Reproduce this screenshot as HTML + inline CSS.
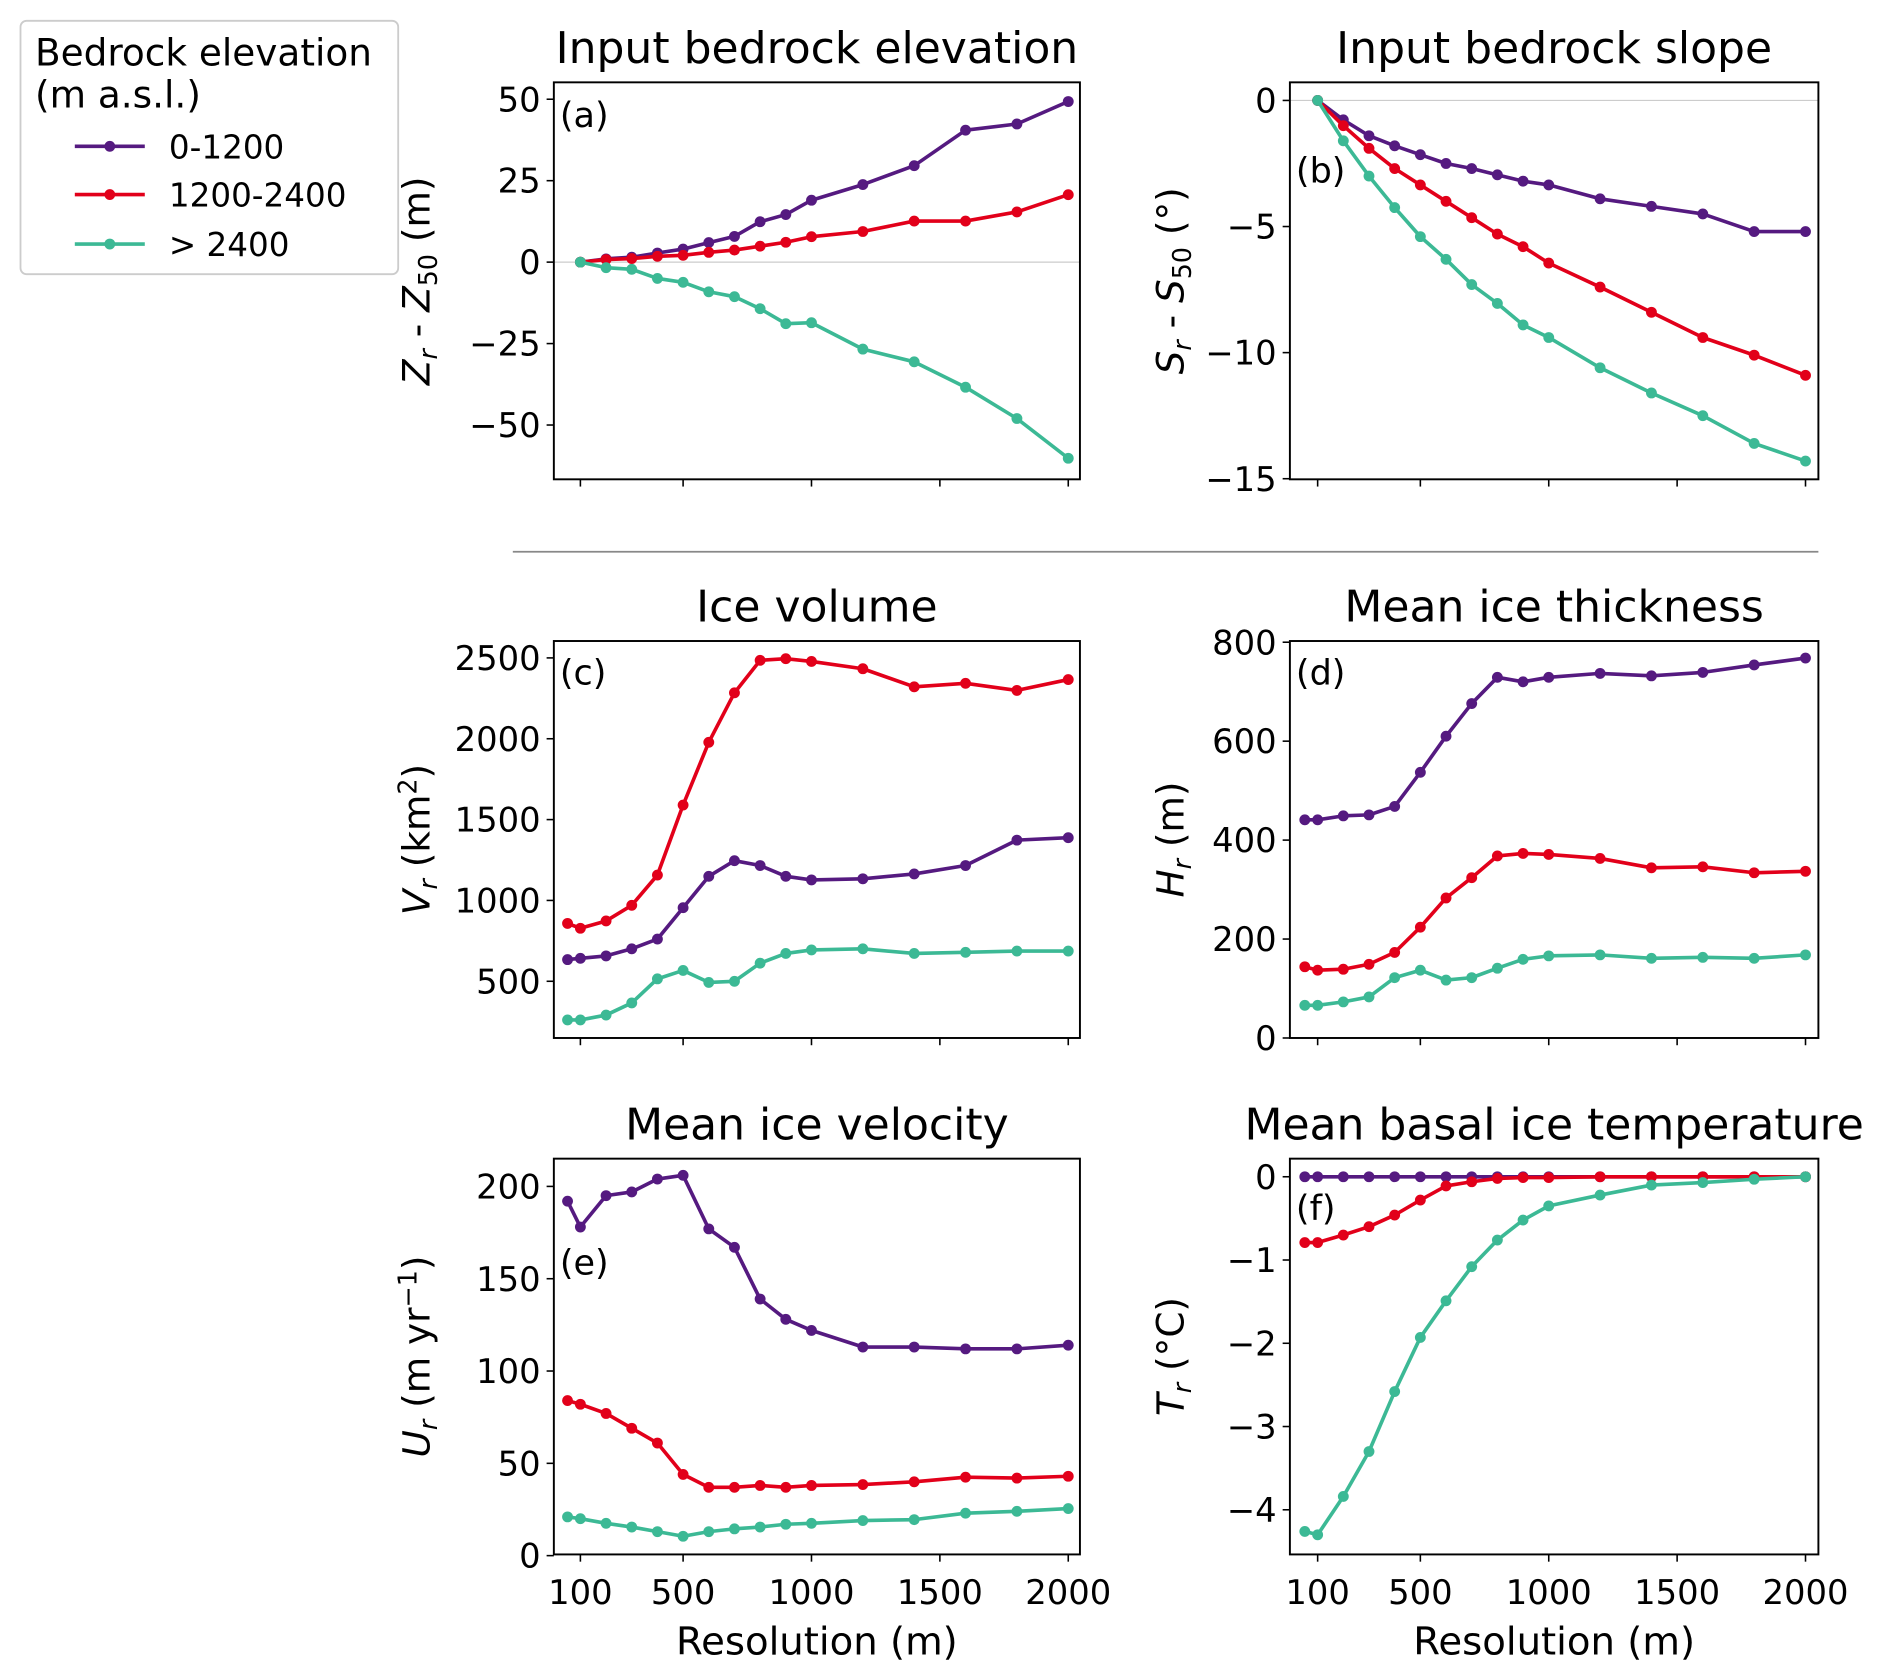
<!DOCTYPE html>
<html><head><meta charset="utf-8"><style>
html,body{margin:0;padding:0;background:#fff}
svg{display:block}
text{font-family:"DejaVu Sans","Liberation Sans",sans-serif;fill:#000}
</style></head><body>
<svg id="fig" xmlns="http://www.w3.org/2000/svg" width="1892" height="1679" viewBox="0 0 1568 1391">
<g id="legend">
<rect x="17" y="17" width="313" height="210" rx="5" fill="#fff" stroke="#ccc" stroke-width="1.5"/>
<text x="29" y="54" font-size="31">Bedrock elevation</text>
<text x="29" y="89" font-size="31">(m a.s.l.)</text>
<g><line x1="62" y1="121" x2="120" y2="121" stroke="#551a80" stroke-width="3"/><circle cx="91" cy="121" r="4.5" fill="#551a80"/><text x="140" y="131" font-size="27">0-1200</text></g>
<g><line x1="62" y1="161" x2="120" y2="161" stroke="#e2001a" stroke-width="3"/><circle cx="91" cy="161" r="4.5" fill="#e2001a"/><text x="140" y="171" font-size="27">1200-2400</text></g>
<g><line x1="62" y1="202" x2="120" y2="202" stroke="#3cb995" stroke-width="3"/><circle cx="91" cy="202" r="4.5" fill="#3cb995"/><text x="140" y="212" font-size="27">&gt; 2400</text></g>
</g>
<line x1="425" y1="457" x2="1507" y2="457" stroke="#888" stroke-width="1.5"/>
</svg>
<script>
const resFull = [50,100,200,300,400,500,600,700,800,900,1000,1200,1400,1600,1800,2000];
const resA = [100,200,300,400,500,600,700,800,900,1000,1200,1400,1600,1800,2000];
const xTicks = [100,500,1000,1500,2000];
const aPurple = [0,1,1.5,2.8,4.0,6,7.9,12.4,14.6,19,23.8,29.6,40.5,42.4,49.3];
const aRed = [0,0.8,1.1,1.8,2.1,3,3.7,4.9,6.1,7.8,9.4,12.6,12.6,15.4,20.7];
const aGreen = [0,-1.7,-2.2,-5,-6.2,-9.1,-10.6,-14.3,-18.9,-18.6,-26.7,-30.6,-38.4,-48,-60.2];
const bPurple = [0,-0.77,-1.4,-1.8,-2.15,-2.5,-2.7,-2.95,-3.2,-3.35,-3.9,-4.2,-4.5,-5.2,-5.2];
const bRed = [0,-1.0,-1.9,-2.7,-3.35,-4.0,-4.65,-5.3,-5.8,-6.45,-7.4,-8.4,-9.4,-10.1,-10.9];
const bGreen = [0,-1.6,-3.0,-4.25,-5.4,-6.3,-7.3,-8.05,-8.9,-9.4,-10.6,-11.6,-12.5,-13.6,-14.3];
const cPurple = [634,642,657,701,761,955,1149,1246,1216,1149,1127,1134,1164,1216,1373,1388];
const cRed = [858,828,873,970,1157,1590,1978,2284,2485,2495,2478,2433,2321,2343,2299,2366];
const cGreen = [261,261,291,366,515,567,493,500,612,672,694,701,672,679,687,687];
const dPurple = [441,441,449,451,468,537,610,676,729,720,729,737,732,739,754,768];
const dRed = [144,137,139,149,173,224,283,324,368,373,371,363,344,346,334,337];
const dGreen = [66,66,73,83,122,137,117,122,141,159,166,168,161,163,161,168];
const ePurple = [192,178,195,197,204,206,177,167,139,128,122,113,113,112,112,114];
const eRed = [84,82,77,69,61,44,37,37,38,37,38,38.5,40,42.5,42,43];
const eGreen = [21,20,17.5,15.5,13,10.5,13,14.5,15.5,17,17.5,19,19.5,23,24,25.5];
const fPurple = [0,0,0,0,0,0,0,0,0,0,0,0,0,0,0,0];
const fRed = [-0.79,-0.79,-0.70,-0.60,-0.46,-0.28,-0.11,-0.06,-0.02,-0.01,-0.01,0,0,0,0,0];
const fGreen = [-4.26,-4.3,-3.84,-3.30,-2.58,-1.93,-1.49,-1.08,-0.76,-0.52,-0.35,-0.22,-0.10,-0.07,-0.03,0];
const aTicks = [50,25,0,-25,-50];
const bTicks = [0,-5,-10,-15];
const cTicks = [500,1000,1500,2000,2500];
const dTicks = [0,200,400,600,800];
const eTicks = [0,50,100,150,200];
const fTicks = [0,-1,-2,-3,-4];

const NS='http://www.w3.org/2000/svg';
const svg=document.getElementById('fig');
const COL={purple:'#551a80',red:'#e2001a',green:'#3cb995'};
function mk(tag,attrs,parent){const e=document.createElementNS(NS,tag);for(const k in attrs)e.setAttribute(k,attrs[k]);(parent||svg).appendChild(e);return e;}
function fmt(v){return v<0?'\u2212'+Math.abs(v):String(v);}

function panel(p){
  const g=mk('g',{});
  
  
  const X=v=>p.x100+(v-100)*0.2128;
  const Y=v=>p.y0-(v-p.v0)*p.k;
  const t=mk('text',{x:(p.L+p.R)/2,y:p.T-16,'font-size':36.5,'text-anchor':'middle'},g);
  t.textContent=p.title;
  
  
  if(p.grid0){const gl=mk('line',{x1:p.L,x2:p.R,y1:Y(0),y2:Y(0),stroke:'#ccc','stroke-width':1},g);
    
    }
  p.yt.forEach(v=>{
    const y=Y(v);
    mk('line',{x1:p.L-6,x2:p.L,y1:y,y2:y,stroke:'#000','stroke-width':1.3},g);
    const tx=mk('text',{x:p.L-11,y:y+10,'font-size':28,'text-anchor':'end'},g);
    tx.textContent=fmt(v);
    
    
  });
  xTicks.forEach(v=>{
    const x=X(v);
    mk('line',{x1:x,x2:x,y1:p.B,y2:p.B+6,stroke:'#000','stroke-width':1.3},g);
    if(p.xlab){const tx=mk('text',{x:x,y:p.B+41,'font-size':28,'text-anchor':'middle'},g);
      tx.textContent=v;
      
      }
  });
  if(p.xlab){const xl=mk('text',{x:(p.L+p.R)/2,y:p.B+83,'font-size':32,'text-anchor':'middle'},g);
    xl.textContent='Resolution (m)';
    
    }
  const yl=mk('text',{x:0,y:0,'font-size':31,'text-anchor':'middle',transform:`translate(${p.ylx},${(p.T+p.B)/2}) rotate(-90)`},g);
  yl.innerHTML=p.ylab;
  
  
  [['purple',p.s[0]],['red',p.s[1]],['green',p.s[2]]].forEach(([c,vals])=>{
    const sg=mk('g',{},g);
    
    
    const pts=vals.map((v,i)=>[X(p.xs[i]),Y(v)]);
    mk('polyline',{points:pts.map(q=>q.join(',')).join(' '),fill:'none',stroke:COL[c],'stroke-width':3,'stroke-linejoin':'round'},sg);
    pts.forEach(q=>{const m=mk('circle',{cx:q[0],cy:q[1],r:4.5,fill:COL[c]},sg);
      
      });
  });
  const fr=mk('rect',{x:p.L,y:p.T,width:p.R-p.L,height:p.B-p.T,fill:'none',stroke:'#000','stroke-width':1.6},g);
  
  
  const pl=mk('text',{x:p.L+5,y:p.ply,'font-size':29},g);
  pl.textContent='('+p.id+')';
  
  
}
const C1={L:459,R:895,x100:481,ylx:356},C2={L:1069,R:1507,x100:1092,ylx:981};
panel(Object.assign({},C1,{id:'a',T:68,B:397,title:'Input bedrock elevation',y0:217,v0:0,k:2.7,yt:aTicks,xs:resA,s:[aPurple,aRed,aGreen],grid0:true,ply:105,
  ylab:'<tspan font-style="italic">Z</tspan><tspan font-style="italic" font-size="21" dy="6">r</tspan><tspan dy="-6"> - </tspan><tspan font-style="italic">Z</tspan><tspan font-size="21" dy="6">50</tspan><tspan dy="-6"> (m)</tspan>'}));
panel(Object.assign({},C2,{id:'b',T:68,B:397,title:'Input bedrock slope',y0:83,v0:0,k:20.9,yt:bTicks,xs:resA,s:[bPurple,bRed,bGreen],grid0:true,ply:151,
  ylab:'<tspan font-style="italic">S</tspan><tspan font-style="italic" font-size="21" dy="6">r</tspan><tspan dy="-6"> - </tspan><tspan font-style="italic">S</tspan><tspan font-size="21" dy="6">50</tspan><tspan dy="-6"> (°)</tspan>'}));
panel(Object.assign({},C1,{id:'c',T:531,B:860,title:'Ice volume',y0:813,v0:500,k:0.134,yt:cTicks,xs:resFull,s:[cPurple,cRed,cGreen],ply:567,
  ylab:'<tspan font-style="italic">V</tspan><tspan font-style="italic" font-size="21" dy="6">r</tspan><tspan dy="-6"> (km</tspan><tspan font-size="21" dy="-11">2</tspan><tspan dy="11">)</tspan>'}));
panel(Object.assign({},C2,{id:'d',T:531,B:860,title:'Mean ice thickness',y0:860,v0:0,k:0.41,yt:dTicks,xs:resFull,s:[dPurple,dRed,dGreen],ply:567,
  ylab:'<tspan font-style="italic">H</tspan><tspan font-style="italic" font-size="21" dy="6">r</tspan><tspan dy="-6"> (m)</tspan>'}));
panel(Object.assign({},C1,{id:'e',T:960,B:1288,title:'Mean ice velocity',y0:1289,v0:0,k:1.53,yt:eTicks,xs:resFull,s:[ePurple,eRed,eGreen],xlab:true,ply:1056,
  ylab:'<tspan font-style="italic">U</tspan><tspan font-style="italic" font-size="21" dy="6">r</tspan><tspan dy="-6"> (m yr</tspan><tspan font-size="21" dy="-11">−1</tspan><tspan dy="11">)</tspan>'}));
panel(Object.assign({},C2,{id:'f',T:960,B:1288,title:'Mean basal ice temperature',y0:975,v0:0,k:69,yt:fTicks,xs:resFull,s:[fPurple,fRed,fGreen],xlab:true,ply:1011,
  ylab:'<tspan font-style="italic">T</tspan><tspan font-style="italic" font-size="21" dy="6">r</tspan><tspan dy="-6"> (°C)</tspan>'}));
</script>
</body></html>
